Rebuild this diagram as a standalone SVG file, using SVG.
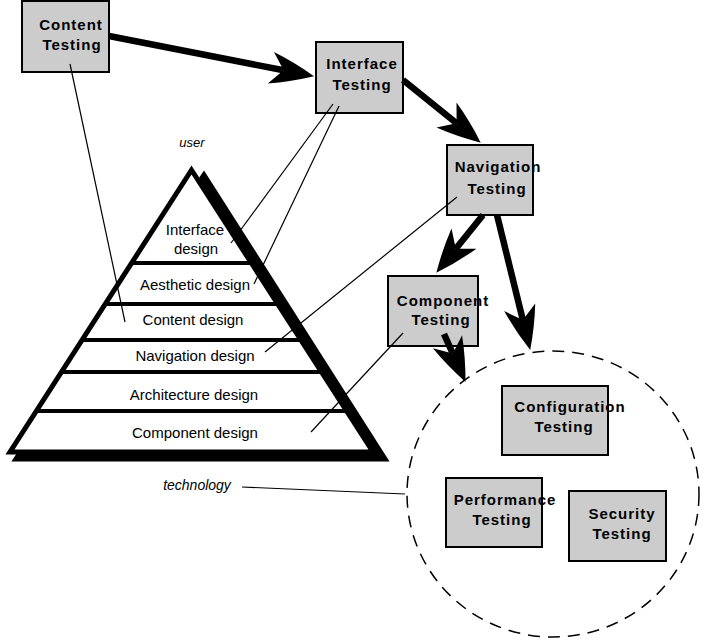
<svg xmlns="http://www.w3.org/2000/svg" width="705" height="642" viewBox="0 0 705 642">
<style>
.box{fill:#cccccc;stroke:#000;stroke-width:2}
.bt{font-family:"Liberation Sans",Arial,sans-serif;font-size:15px;font-weight:bold;letter-spacing:1px;text-anchor:middle;fill:#000}
.pt{font-family:"Liberation Sans",Arial,sans-serif;font-size:15px;text-anchor:middle;fill:#000}
.it{font-family:"Liberation Sans",Arial,sans-serif;font-style:italic;fill:#000}
.thin{stroke:#000;stroke-width:1.2;fill:none}
.thick{stroke:#000;stroke-width:6.5;fill:none;marker-end:url(#ah)}
.band{stroke:#000;stroke-width:4}
</style>
<defs>
<marker id="ah" markerUnits="userSpaceOnUse" markerWidth="50" markerHeight="40" refX="13" refY="20" orient="auto" viewBox="0 0 50 40">
<path d="M44,20 Q22,10 0,4 L13,20 L0,36 Q22,30 44,20 Z" fill="#000"/>
</marker>
</defs>
<rect width="705" height="642" fill="#fff"/>

<g id="pyramid">
<polygon points="204,175 16,459 385,459" fill="#000" stroke="#000" stroke-width="5"/>
<polygon points="191.5,170 10,452 373,452" fill="#fff" stroke="#000" stroke-width="5"/>
<line class="band" x1="132" y1="263" x2="251" y2="263"/>
<line class="band" x1="105" y1="304" x2="278" y2="304"/>
<line class="band" x1="82" y1="340" x2="301" y2="340"/>
<line class="band" x1="61" y1="372" x2="322" y2="372"/>
<line class="band" x1="36" y1="411" x2="347" y2="411"/>
<text class="pt" x="195" y="235">Interface</text>
<text class="pt" x="196" y="254">design</text>
<text class="pt" x="195" y="290">Aesthetic design</text>
<text class="pt" x="193" y="325">Content design</text>
<text class="pt" x="195" y="361">Navigation design</text>
<text class="pt" x="194" y="400">Architecture design</text>
<text class="pt" x="195" y="438">Component design</text>
<text class="it" x="192" y="147" font-size="13" text-anchor="middle">user</text>
<text class="it" x="197" y="490" font-size="14" text-anchor="middle">technology</text>
</g>

<ellipse id="tech-circle" cx="553" cy="494" rx="146" ry="143" fill="none" stroke="#000" stroke-width="1.5" stroke-dasharray="12 8"/>

<g id="content-testing">
<rect class="box" x="22" y="1" width="87" height="71"/>
<text class="bt" x="71" y="30">Content</text>
<text class="bt" x="72" y="50">Testing</text>
</g>
<g id="interface-testing">
<rect class="box" x="316" y="42" width="87" height="71"/>
<text class="bt" x="362" y="69">Interface</text>
<text class="bt" x="362" y="90">Testing</text>
</g>
<g id="navigation-testing">
<rect class="box" x="447" y="145" width="86" height="70"/>
<text class="bt" x="498" y="172">Navigation</text>
<text class="bt" x="497" y="194">Testing</text>
</g>
<g id="component-testing">
<rect class="box" x="388" y="276" width="90" height="70"/>
<text class="bt" x="443" y="306">Component</text>
<text class="bt" x="441" y="325">Testing</text>
</g>
<g id="configuration-testing">
<rect class="box" x="502" y="386" width="106" height="69"/>
<text class="bt" x="570" y="412">Configuration</text>
<text class="bt" x="564" y="432">Testing</text>
</g>
<g id="performance-testing">
<rect class="box" x="446" y="478" width="96" height="69"/>
<text class="bt" x="505" y="505">Performance</text>
<text class="bt" x="502" y="525">Testing</text>
</g>
<g id="security-testing">
<rect class="box" x="569" y="491" width="97" height="70"/>
<text class="bt" x="622" y="519">Security</text>
<text class="bt" x="622" y="539">Testing</text>
</g>

<g id="connectors">
<line class="thin" x1="70" y1="64" x2="125" y2="322"/>
<line class="thin" x1="333" y1="104" x2="231" y2="243"/>
<line class="thin" x1="339" y1="106" x2="254" y2="284"/>
<line class="thin" x1="457" y1="197" x2="265" y2="352"/>
<line class="thin" x1="403" y1="333" x2="311" y2="432"/>
<polyline class="thin" points="242,487 405,494"/>
<path class="thick" d="M109,36 L283.6,70.3"/>
<path class="thick" d="M403,80 L456.6,123.2"/>
<path class="thick" d="M483,215 L455.8,248.7"/>
<path class="thick" d="M497,215 L522.8,319.9"/>
<path class="thick" d="M444,334 L452.8,353.6"/>
</g>
</svg>
